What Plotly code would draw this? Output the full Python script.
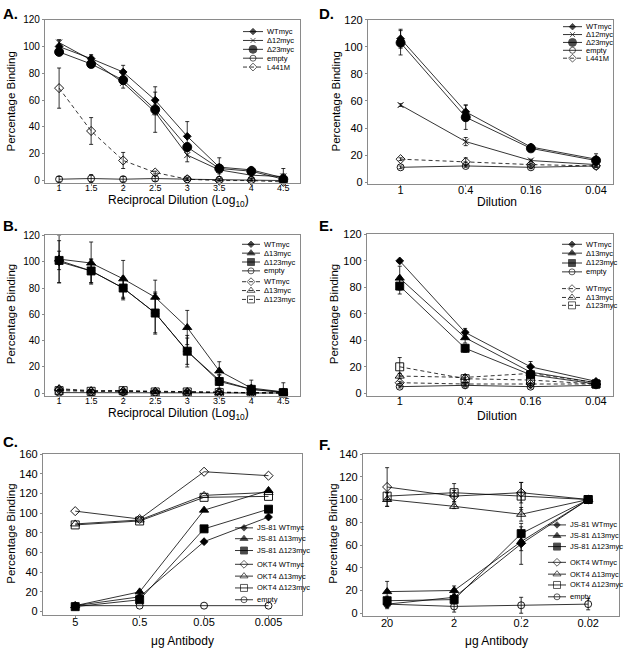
import plotly.graph_objects as go

W, H = 624, 652
FONT = "Liberation Sans, Arial, sans-serif"
NARROW = "Liberation Sans Narrow, Liberation Sans, Arial, sans-serif"

# ---------------- data ----------------
logdil = [1, 1.5, 2, 2.5, 3, 3.5, 4, 4.5]
dil_labels = ["1", "0.4", "0.16", "0.04"]
ab_c_labels = ["5", "0.5", "0.05", "0.005"]
ab_f_labels = ["20", "2", "0.2", "0.02"]

# Panel A
A_wt = [100, 91, 81, 60, 33, 10, 8, 2]
A_wt_err = [5, 3, 5, 10, 11, 7, 2, 3]
A_d12 = [103, 90, 73, 51, 19, 8, 4, 3]
A_d12_err = [2, 3, 4, 15, 5, 3, 3, 6]
A_d23 = [96, 87, 75, 53, 25, 9, 7, 1]
A_d23_err = [2, 2, 3, 4, 3, 2, 1, 1]
A_empty = [1, 1.5, 1, 1.5, 1, 0.5, 0.5, 0]
A_empty_err = [2, 3, 2, 2, 1, 1, 1, 1]
A_l441m = [69, 37, 15, 6, 1, 0, 0, -1]
A_l441m_err = [15, 10, 6, 1, 1, 0, 0, 0]

# Panel D
D_wt = [106, 52, 26, 17]
D_wt_err = [7, 5, 2, 4]
D_d12 = [57, 30, 16, 13]
D_d12_err = [1, 3, 1, 1]
D_d23 = [103, 48, 25, 16]
D_d23_err = [9, 9, 2, 2]
D_empty = [11, 12, 11, 12]
D_empty_err = [1, 1, 1, 1]
D_l441m = [17, 15, 13, 12]
D_l441m_err = [1, 3, 1, 1]

# Panel B
B_wt = [100, 93, 80, 61, 32, 10, 3, 1]
B_wt_err = [16, 9, 8, 15, 12, 4, 3, 2]
B_d13 = [102, 99, 87, 73, 50, 17, 4, 1]
B_d13_err = [18, 16, 14, 13, 13, 7, 6, 7]
B_d123 = [101, 93, 80, 61, 32, 9, 3, 0.5]
B_d123_err = [7, 9, 9, 16, 10, 5, 2, 2]
B_empty = [0.5, 0.5, 0.8, 0.5, 0.5, 0.3, 0.2, 0.2]
B_empty_err = [1, 1, 1, 1, 1, 1, 1, 1]
B_wt_neg = [3, 1.5, 1.5, 1, 1, 0.5, 0.3, 0.3]
B_d13_neg = [3.5, 2, 2, 1.5, 1, 0.5, 0.5, 0.3]
B_d123_neg = [2, 1.5, 2, 1, 1, 0.5, 0.5, 0.2]
B_neg_err = [1, 1, 1, 1, 1, 1, 1, 1]

# Panel E
E_wt = [100, 46, 20, 9]
E_wt_err = [1, 3, 4, 1]
E_d13 = [87, 42, 16, 8]
E_d13_err = [9, 4, 3, 1]
E_d123 = [81, 34, 14, 7]
E_d123_err = [6, 3, 3, 1]
E_empty = [5, 6, 5, 6]
E_empty_err = [1, 1, 1, 1]
E_wt_neg = [8, 7, 7, 7]
E_wt_neg_err = [1, 1, 1, 1]
E_d13_neg = [13, 12, 15, 8]
E_d13_neg_err = [2, 2, 2, 1]
E_d123_neg = [20, 11, 10, 7]
E_d123_neg_err = [7, 3, 4, 1]

# Panel C
C_js_wt = [6, 15, 71, 96]
C_js_d13 = [6, 20, 103, 123]
C_js_d123 = [5, 12, 84, 104]
C_okt_wt = [102, 94, 142, 138]
C_okt_d13 = [89, 93, 118, 121]
C_okt_d123 = [88, 92, 116, 117]
C_empty = [6, 6, 6, 6]

# Panel F
F_js_wt = [8, 14, 61, 100]
F_js_wt_err = [3, 3, 18, 0]
F_js_d13 = [19, 20, 63, 100]
F_js_d13_err = [9, 4, 8, 0]
F_js_d123 = [11, 12, 70, 100]
F_js_d123_err = [4, 4, 6, 0]
F_okt_wt = [111, 103, 106, 100]
F_okt_wt_err = [17, 5, 9, 0]
F_okt_d13 = [100, 94, 87, 100]
F_okt_d13_err = [6, 2, 6, 0]
F_okt_d123 = [103, 106, 103, 100]
F_okt_d123_err = [3, 8, 12, 0]
F_empty = [8, 6, 7, 8]
F_empty_err = [4, 5, 7, 5]

# ---------------- styles ----------------
STY = {
    "dia": dict(symbol="diamond", size=6),
    "x": dict(symbol="x-thin", size=6),
    "bigcirc": dict(symbol="circle", size=9),
    "ocirc": dict(symbol="circle-open", size=7),
    "odia": dict(symbol="diamond-open", size=7),
    "tri": dict(symbol="triangle-up", size=8),
    "sq": dict(symbol="square", size=8),
    "otri": dict(symbol="triangle-up-open", size=8),
    "osq": dict(symbol="square-open", size=8),
}


def marker_dict(key):
    s = STY[key]
    return dict(symbol=s["symbol"], size=s["size"],
                color="black", line=dict(color="black", width=0.9))


fig = go.Figure()


def add(ax, x, y, key, err=None, dash="solid"):
    xa = "x" if ax == 1 else "x%d" % ax
    ya = "y" if ax == 1 else "y%d" % ax
    tr = go.Scatter(x=x, y=y, xaxis=xa, yaxis=ya, mode="lines+markers",
                    line=dict(color="black", width=0.8, dash=dash),
                    marker=marker_dict(key), showlegend=False, cliponaxis=False)
    if err is not None:
        tr.error_y = dict(type="data", array=err, visible=True, color="black",
                          thickness=0.8, width=2)
    fig.add_trace(tr)


DASH = "4px,3px"

# A (axis 1)
add(1, logdil, A_empty, "ocirc", A_empty_err)
add(1, logdil, A_l441m, "odia", A_l441m_err, DASH)
add(1, logdil, A_d23, "bigcirc", A_d23_err)
add(1, logdil, A_d12, "x", A_d12_err)
add(1, logdil, A_wt, "dia", A_wt_err)
# D (axis 2)
add(2, dil_labels, D_empty, "ocirc", D_empty_err)
add(2, dil_labels, D_l441m, "odia", D_l441m_err, DASH)
add(2, dil_labels, D_d23, "bigcirc", D_d23_err)
add(2, dil_labels, D_d12, "x", D_d12_err)
add(2, dil_labels, D_wt, "dia", D_wt_err)
# B (axis 3)
add(3, logdil, B_empty, "ocirc", B_empty_err)
add(3, logdil, B_wt_neg, "odia", B_neg_err, DASH)
add(3, logdil, B_d13_neg, "otri", B_neg_err, DASH)
add(3, logdil, B_d123_neg, "osq", B_neg_err, DASH)
add(3, logdil, B_d123, "sq", B_d123_err)
add(3, logdil, B_d13, "tri", B_d13_err)
add(3, logdil, B_wt, "dia", B_wt_err)
# E (axis 4)
add(4, dil_labels, E_empty, "ocirc", E_empty_err)
add(4, dil_labels, E_wt_neg, "odia", E_wt_neg_err, DASH)
add(4, dil_labels, E_d13_neg, "otri", E_d13_neg_err, DASH)
add(4, dil_labels, E_d123_neg, "osq", E_d123_neg_err, DASH)
add(4, dil_labels, E_d123, "sq", E_d123_err)
add(4, dil_labels, E_d13, "tri", E_d13_err)
add(4, dil_labels, E_wt, "dia", E_wt_err)
# C (axis 5)
add(5, ab_c_labels, C_empty, "ocirc")
add(5, ab_c_labels, C_okt_wt, "odia")
add(5, ab_c_labels, C_okt_d13, "otri")
add(5, ab_c_labels, C_okt_d123, "osq")
add(5, ab_c_labels, C_js_d123, "sq")
add(5, ab_c_labels, C_js_d13, "tri")
add(5, ab_c_labels, C_js_wt, "dia")
# F (axis 6)
add(6, ab_f_labels, F_empty, "ocirc", F_empty_err)
add(6, ab_f_labels, F_okt_wt, "odia", F_okt_wt_err)
add(6, ab_f_labels, F_okt_d13, "otri", F_okt_d13_err)
add(6, ab_f_labels, F_okt_d123, "osq", F_okt_d123_err)
add(6, ab_f_labels, F_js_d123, "sq", F_js_d123_err)
add(6, ab_f_labels, F_js_d13, "tri", F_js_d13_err)
add(6, ab_f_labels, F_js_wt, "dia", F_js_wt_err)

# ---------------- axes ----------------
def px_dom_x(a, b):
    return [a / W, b / W]


def px_dom_y(top, bottom):
    return [1 - bottom / H, 1 - top / H]


AX = "#8a8a8a"


def axis_common():
    return dict(showline=True, linecolor=AX, linewidth=1.3, mirror=True,
                showgrid=False, zeroline=False, ticks="outside", ticklen=2,
                tickcolor=AX, tickwidth=1, tickfont=dict(size=10, color="black", family=FONT))


panels = {
    1: dict(xd=(45, 300), yd=(14, 180), xr=[0.78, 4.76], yr=[-2, 120], ytick=20, cat=False),
    2: dict(xd=(368, 613), yd=(14, 181), xr=[-0.5, 3.26], yr=[-1.5, 120], ytick=20, cat=True),
    3: dict(xd=(45, 300), yd=(233, 396), xr=[0.78, 4.76], yr=[-2, 120], ytick=20, cat=False),
    4: dict(xd=(367, 613), yd=(232, 396), xr=[-0.5, 3.26], yr=[-2, 120], ytick=20, cat=True),
    5: dict(xd=(43, 302), yd=(455, 618), xr=[-0.5, 3.52], yr=[-3, 160], ytick=20, cat=True),
    6: dict(xd=(363, 619), yd=(455, 619), xr=[-0.36, 3.46], yr=[-2, 140], ytick=20, cat=True),
}

lay = {}
for i, p in panels.items():
    xk = "xaxis" if i == 1 else "xaxis%d" % i
    yk = "yaxis" if i == 1 else "yaxis%d" % i
    xa = axis_common()
    xa.update(domain=px_dom_x(*p["xd"]), range=p["xr"], anchor="y" if i == 1 else "y%d" % i)
    if p["cat"]:
        xa.update(type="category")
        if i in (5, 6):
            xa.update(ticklabelstandoff=-5, tickfont=dict(size=11, color="black", family=FONT))
        else:
            xa.update(ticklabelstandoff=-7, tickfont=dict(size=11, color="black", family=FONT))
    else:
        xa.update(tickmode="array", tickvals=logdil, ticktext=[("%g" % v) for v in logdil],
                  ticklabelstandoff=-6, tickfont=dict(size=9, color="black", family=FONT))
    ya = axis_common()
    ya.update(domain=px_dom_y(*p["yd"]), range=p["yr"], anchor="x" if i == 1 else "x%d" % i,
              tickmode="linear", tick0=0, dtick=p["ytick"])
    if i in (2, 4, 5, 6):
        ya.update(tickfont=dict(size=11, color="black", family=FONT))
    lay[xk] = xa
    lay[yk] = ya

# overlay axes in pixel units for legend keys
lay["xaxis7"] = dict(domain=[0, 1], range=[0, W], visible=False, anchor="y7", fixedrange=True)
lay["yaxis7"] = dict(domain=[0, 1], range=[H, 0], visible=False, anchor="x7", fixedrange=True)

annotations = []
# legends: (line x0, line x1, text x, [(y, label, style, dash)])
legends = [
    (243, 263, 265, [(26, "WTmyc", "dia", "solid"), (35, "Δ12myc", "x", "solid"),
                     (44, "Δ23myc", "bigcirc", "solid"), (53, "empty", "ocirc", "solid"),
                     (62, "L441M", "odia", DASH)]),
    (563, 582, 584, [(21, "WTmyc", "dia", "solid"), (29, "Δ12myc", "x", "solid"),
                     (37, "Δ23myc", "bigcirc", "solid"), (45, "empty", "ocirc", "solid"),
                     (53, "L441M", "odia", DASH)]),
    (242, 260, 262, [(242, "WTmyc", "dia", "solid"), (251, "Δ13myc", "tri", "solid"),
                     (260, "Δ123myc", "sq", "solid"), (269, "empty", "ocirc", "solid"),
                     (280, "WTmyc", "odia", DASH), (289, "Δ13myc", "otri", DASH),
                     (298, "Δ123myc", "osq", DASH)]),
    (562, 582, 584, [(242, "WTmyc", "dia", "solid"), (251, "Δ13myc", "tri", "solid"),
                     (261, "Δ123myc", "sq", "solid"), (270, "empty", "ocirc", "solid"),
                     (287, "WTmyc", "odia", DASH), (296, "Δ13myc", "otri", DASH),
                     (304, "Δ123myc", "osq", DASH)]),
    (235, 253, 255, [(530, "JS-81 WTmyc", "dia", "solid"), (541, "JS-81 Δ13myc", "tri", "solid"),
                     (553, "JS-81 Δ123myc", "sq", "solid"), (567, "OKT4 WTmyc", "odia", "solid"),
                     (579, "OKT4 Δ13myc", "otri", "solid"), (591, "OKT4 Δ123myc", "osq", "solid"),
                     (603, "empty", "ocirc", "solid")]),
    (548, 566, 568, [(527, "JS-81 WTmyc", "dia", "solid"), (538, "JS-81 Δ13myc", "tri", "solid"),
                     (549, "JS-81 Δ123myc", "sq", "solid"), (565, "OKT4 WTmyc", "odia", "solid"),
                     (577, "OKT4 Δ13myc", "otri", "solid"), (588, "OKT4 Δ123myc", "osq", "solid"),
                     (600, "empty", "ocirc", "solid")]),
]
for x0, x1, xt, rows in legends:
    for (yy, label, key, dash) in rows:
        xm = (x0 + x1) / 2
        m = marker_dict(key)
        m["size"] = [0, STY[key]["size"] - 1, 0]
        fig.add_trace(go.Scatter(x=[x0, xm, x1], y=[yy, yy, yy], xaxis="x7", yaxis="y7",
                                 mode="lines+markers", marker=m,
                                 line=dict(color="black", width=0.8, dash=dash),
                                 showlegend=False, hoverinfo="skip"))
        annotations.append(dict(x=xt / W, y=1 - yy / H, xref="paper", yref="paper",
                                text=label, showarrow=False, xanchor="left", yanchor="middle",
                                font=dict(size=7.5, family=NARROW, color="black")))

# panel letters
for txt, x, y in [("A.", 1, 8), ("D.", 317, 8), ("B.", 1, 223), ("E.", 317, 223),
                  ("C.", 1, 442), ("F.", 317, 445)]:
    annotations.append(dict(x=x / W, y=1 - y / H, xref="paper", yref="paper", text="<b>%s</b>" % txt,
                            showarrow=False, xanchor="left", yanchor="middle",
                            font=dict(size=15, family=FONT, color="black")))

# axis titles
XT = "Reciprocal Dilution (Log<sub>10</sub>)"
for txt, x, y in [(XT, 178, 198), ("Dilution", 497, 199), (XT, 178, 414), ("Dilution", 497, 416),
                  ("μg Antibody", 182, 645), ("μg Antibody", 497, 645)]:
    annotations.append(dict(x=x / W, y=1 - y / H, xref="paper", yref="paper", text=txt,
                            showarrow=False, xanchor="center", yanchor="middle",
                            font=dict(size=12, family=FONT, color="black")))
for x, y in [(11, 97), (336, 97), (11, 313), (334, 313), (11, 536), (333, 536)]:
    annotations.append(dict(x=x / W, y=1 - y / H, xref="paper", yref="paper",
                            text="Percentage Binding", textangle=-90,
                            showarrow=False, xanchor="center", yanchor="middle",
                            font=dict(size=11.5, family=FONT, color="black")))

fig.update_layout(width=W, height=H, margin=dict(l=0, r=0, t=0, b=0),
                  paper_bgcolor="white", plot_bgcolor="rgba(0,0,0,0)",
                  font=dict(family=FONT, color="black"), showlegend=False,
                  annotations=annotations, **lay)

fig.write_html("out.html", config={"displayModeBar": False},
               post_script="document.body.style.margin='0px';document.body.style.padding='0px';")
